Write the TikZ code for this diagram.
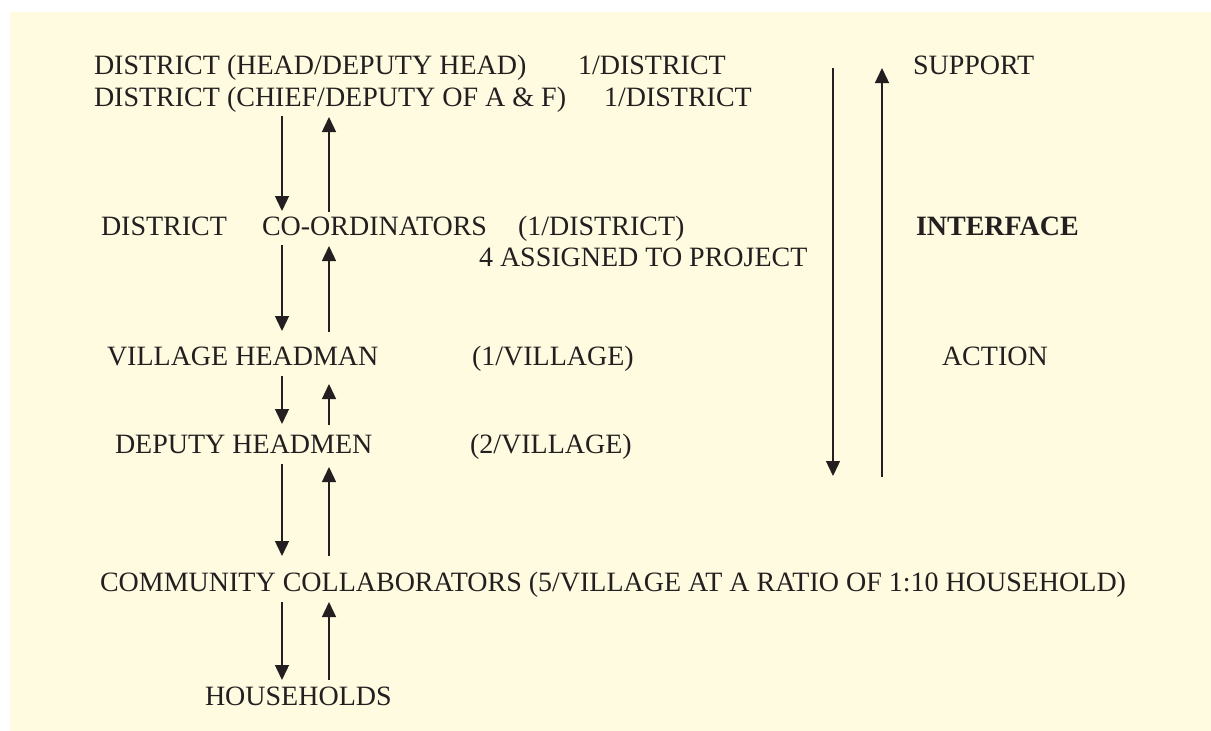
\documentclass[tikz,border=0pt]{standalone}
\usepackage{fontspec}
\setmainfont{Liberation Serif}
\usetikzlibrary{arrows.meta}
\definecolor{bgcream}{RGB}{255,251,224}
\definecolor{ink}{RGB}{35,31,32}
\tikzset{
  lbl/.style={anchor=base west, inner sep=0pt, outer sep=0pt, text=ink, font=\fontsize{28}{33}\selectfont},
  arr/.style={draw=ink, line width=1.4pt, -{Triangle[length=15pt,width=14pt]}},
}
\begin{document}
\begin{tikzpicture}[x=1pt,y=-1pt]
\useasboundingbox (0,0) rectangle (1211,731);
\fill[bgcream] (10,12) rectangle (1212,732);

% texts
\node[lbl] (t1) at (94,74) {DISTRICT (HEAD/DEPUTY HEAD)};
\node[lbl] (t1r) at (578,74) {1/DISTRICT};
\node[lbl] (t2) at (94,106) {DISTRICT (CHIEF/DEPUTY OF A \& F)};
\node[lbl] (t2r) at (604,106) {1/DISTRICT};
\node[lbl] (sup) at (913,74) {SUPPORT};

\node[lbl] (t3a) at (101,235) {DISTRICT};
\node[lbl] (t3b) at (262,235) {CO-ORDINATORS};
\node[lbl] (t3c) at (518,235) {(1/DISTRICT)};
\node[lbl] (t3d) at (479,266) {4 ASSIGNED TO PROJECT};
\node[lbl, font=\fontsize{28}{33}\selectfont\bfseries] (intf) at (916,235) {INTERFACE};

\node[lbl] (t4) at (107,365) {VILLAGE HEADMAN};
\node[lbl] (t4r) at (472,365) {(1/VILLAGE)};
\node[lbl] (act) at (942,365) {ACTION};

\node[lbl] (t5) at (115,453) {DEPUTY HEADMEN};
\node[lbl] (t5r) at (470,453) {(2/VILLAGE)};

\node[lbl] (t6) at (100,591) {COMMUNITY COLLABORATORS (5/VILLAGE AT A RATIO OF 1:10 HOUSEHOLD)};
\node[lbl] (t7) at (205,705) {HOUSEHOLDS};

% arrow end points
\coordinate (d1a) at (282,116); \coordinate (d1b) at (282,211);
\coordinate (u1a) at (329,212); \coordinate (u1b) at (329,117);
\coordinate (d2a) at (282,245); \coordinate (d2b) at (282,331);
\coordinate (u2a) at (329,332); \coordinate (u2b) at (329,246);
\coordinate (d3a) at (282,376); \coordinate (d3b) at (282,424);
\coordinate (u3a) at (329,425); \coordinate (u3b) at (329,384);
\coordinate (d4a) at (282,464); \coordinate (d4b) at (282,556);
\coordinate (u4a) at (329,556); \coordinate (u4b) at (329,467);
\coordinate (d5a) at (282,602); \coordinate (d5b) at (282,680);
\coordinate (u5a) at (329,680); \coordinate (u5b) at (329,602);
\coordinate (rda) at (833,68); \coordinate (rdb) at (833,476);
\coordinate (rua) at (882,477); \coordinate (rub) at (882,68);

\draw[arr] (d1a) -- (d1b);
\draw[arr] (u1a) -- (u1b);
\draw[arr] (d2a) -- (d2b);
\draw[arr] (u2a) -- (u2b);
\draw[arr] (d3a) -- (d3b);
\draw[arr] (u3a) -- (u3b);
\draw[arr] (d4a) -- (d4b);
\draw[arr] (u4a) -- (u4b);
\draw[arr] (d5a) -- (d5b);
\draw[arr] (u5a) -- (u5b);
\draw[arr] (rda) -- (rdb);
\draw[arr] (rua) -- (rub);
\end{tikzpicture}
\end{document}
